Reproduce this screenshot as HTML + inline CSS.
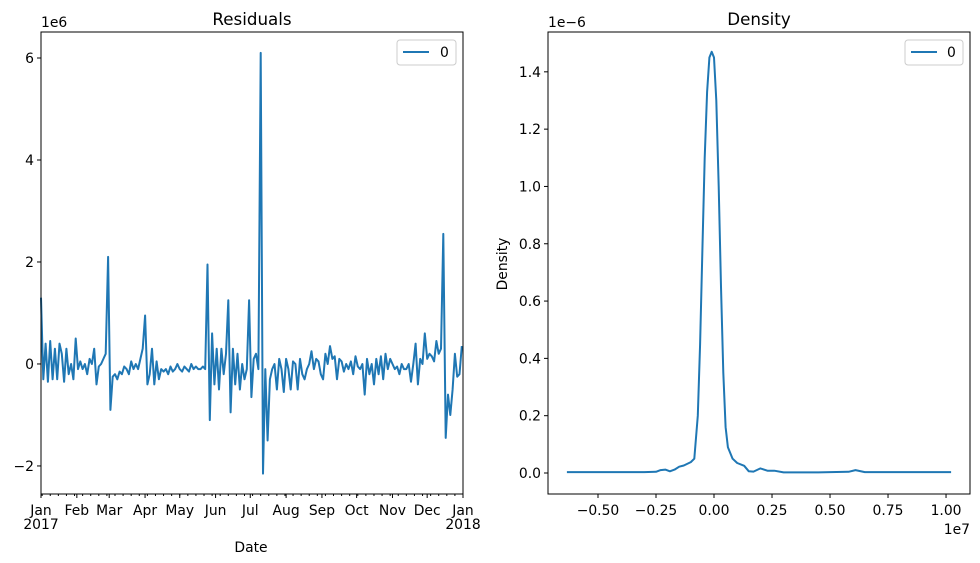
<!DOCTYPE html>
<html><head><meta charset="utf-8"><style>
html,body{margin:0;padding:0;background:#fff;}
svg{display:block;font-family:"DejaVu Sans","Liberation Sans",sans-serif;}
</style></head><body>
<svg id="chart" width="980" height="563" viewBox="0 0 980 563">
<rect width="980" height="563" fill="#fff"/>
<g id="left"></g>
<g id="right"></g>
</svg>
<script>
// ---- Residuals data (millions, every 2 days from 2017-01-01) ----
const residualStepDays = 2;
const residualValues = [
1.3,-0.3,0.4,-0.35,0.45,-0.3,0.3,-0.3,0.4,0.2,
-0.35,0.3,-0.2,0.0,-0.3,0.5,-0.1,0.05,-0.1,0.0,
-0.2,0.1,0.0,0.3,-0.4,-0.05,0.0,0.1,0.2,2.1,
-0.9,-0.25,-0.2,-0.3,-0.15,-0.2,-0.05,-0.1,-0.2,0.05,
-0.1,0.0,-0.1,0.1,0.3,0.95,-0.4,-0.2,0.3,-0.4,
0.05,-0.3,-0.1,-0.15,-0.1,-0.2,-0.05,-0.15,-0.1,0.0,
-0.1,-0.15,-0.05,-0.1,-0.15,0.0,-0.1,-0.05,-0.1,-0.1,
-0.05,-0.1,1.95,-1.1,0.6,-0.4,0.3,-0.5,0.3,-0.2,
0.2,1.25,-0.95,0.3,-0.4,0.2,-0.5,0.0,-0.3,-0.1,
1.25,-0.65,0.1,0.2,-0.1,6.1,-2.15,-0.1,-1.5,-0.3,
-0.1,0.0,-0.5,0.1,-0.1,-0.55,0.1,-0.1,-0.5,0.05,
0.0,-0.5,0.1,-0.2,-0.3,-0.1,0.0,0.25,-0.1,0.1,
0.05,-0.2,-0.3,0.2,0.0,0.35,0.1,0.15,-0.3,0.1,
0.05,-0.15,0.0,-0.1,0.05,-0.2,0.15,-0.05,-0.1,0.0,
-0.6,0.1,-0.2,0.0,-0.4,0.1,-0.2,0.15,-0.3,0.2,
-0.1,0.1,0.0,-0.1,-0.05,-0.2,0.0,-0.1,-0.1,0.0,
-0.35,0.0,0.4,-0.4,0.1,0.0,0.6,0.1,0.2,0.15,
0.05,0.45,0.2,0.3,2.55,-1.45,-0.6,-1.0,-0.5,0.2,
-0.25,-0.2,0.35];
const monthLabels = ["Jan","Feb","Mar","Apr","May","Jun","Jul","Aug","Sep","Oct","Nov","Dec","Jan"];
const monthStartDays = [0,31,59,90,120,151,181,212,243,273,304,334,365];
const residualYTicks = [-2,0,2,4,6];
// ---- Density data (x in 1e7, y in 1e-6) ----
const densityX = [-0.634,-0.3,-0.25,-0.23,-0.21,-0.19,-0.17,-0.15,-0.13,-0.1,-0.085,-0.07,-0.06,-0.05,-0.04,-0.03,-0.02,-0.01,0.0,0.01,0.02,0.03,0.04,0.05,0.06,0.08,0.1,0.13,0.15,0.17,0.2,0.23,0.26,0.3,0.45,0.58,0.61,0.65,0.8,1.022];
const densityY = [0.003,0.003,0.004,0.01,0.012,0.006,0.012,0.022,0.026,0.038,0.05,0.2,0.45,0.78,1.1,1.33,1.45,1.47,1.45,1.3,1.0,0.65,0.35,0.16,0.09,0.05,0.035,0.025,0.006,0.005,0.016,0.008,0.008,0.002,0.002,0.004,0.01,0.003,0.003,0.003];
const densityXTicks = [-0.5,-0.25,0,0.25,0.5,0.75,1.0];
const densityYTicks = [0,0.2,0.4,0.6,0.8,1.0,1.2,1.4];

const NS="http://www.w3.org/2000/svg";
function mk(parent,tag,attrs,text){const e=document.createElementNS(NS,tag);for(const k in attrs)e.setAttribute(k,attrs[k]);if(text!==undefined)e.textContent=text;parent.appendChild(e);return e;}
const C="#1f77b4";
const FS=13.9, TFS=16.7;

// ---------- Left: residuals ----------
const L=document.getElementById('left');
const lx0=41,lx1=463,ly0=32,ly1=494;
const ldMin=0,ldMax=365,lvMin=-2.55,lvMax=6.51;
const lX=d=>lx0+(d-ldMin)/(ldMax-ldMin)*(lx1-lx0);
const lY=v=>ly1-(v-lvMin)/(lvMax-lvMin)*(ly1-ly0);
let t=mk(L,'text',{x:252,y:25,'text-anchor':'middle','font-size':TFS},'Residuals');


let pts=residualValues.map((v,i)=>lX(Math.min(i*residualStepDays,365)).toFixed(1)+','+lY(v).toFixed(1)).join(' ');
let line=mk(L,'polyline',{points:pts,fill:'none',stroke:C,'stroke-width':2,'stroke-linejoin':'round'});


let fr=mk(L,'rect',{x:lx0,y:ly0,width:lx1-lx0,height:ly1-ly0,fill:'none',stroke:'#000','stroke-width':1});


residualYTicks.forEach(v=>{
  const y=lY(v);
  mk(L,'line',{x1:lx0-4,x2:lx0,y1:y,y2:y,stroke:'#000'});
  const tl=mk(L,'text',{x:lx0-7,y:y+5,'text-anchor':'end','font-size':FS},v<0?'\u2212'+Math.abs(v):String(v));
  
  
});
let ex=mk(L,'text',{x:lx0,y:27,'font-size':FS},'1e6');


for(let d=1;d<=365;d+=7){const x=lX(d);mk(L,'line',{x1:x,x2:x,y1:ly1,y2:ly1+2,stroke:'#000'});}
monthStartDays.forEach((d,i)=>{
  const x=lX(d);
  mk(L,'line',{x1:x,x2:x,y1:ly1,y2:ly1+4,stroke:'#000'});
  const tl=mk(L,'text',{x:x,y:ly1+21,'text-anchor':'middle','font-size':FS},monthLabels[i]);
  
  
});
mk(L,'text',{x:lX(0),y:ly1+35,'text-anchor':'middle','font-size':FS},'2017');
mk(L,'text',{x:lX(365),y:ly1+35,'text-anchor':'middle','font-size':FS},'2018');
let xt=mk(L,'text',{x:251,y:552,'text-anchor':'middle','font-size':FS},'Date');


let lg=mk(L,'g',{});


mk(lg,'rect',{x:397,y:40,width:59,height:25,rx:3,fill:'#fff',stroke:'#ccc'});
mk(lg,'line',{x1:403,x2:429,y1:52,y2:52,stroke:C,'stroke-width':2});
mk(lg,'text',{x:440,y:57,'font-size':FS},'0');

// ---------- Right: density ----------
const R=document.getElementById('right');
const rx0=548,rx1=970,ry0=32,ry1=494;
const rxMin=-0.7155,rxMax=1.1033,ryMin=-0.0733,ryMax=1.539;
const rX=v=>rx0+(v-rxMin)/(rxMax-rxMin)*(rx1-rx0);
const rY=v=>ry1-(v-ryMin)/(ryMax-ryMin)*(ry1-ry0);
t=mk(R,'text',{x:759,y:25,'text-anchor':'middle','font-size':TFS},'Density');


pts=densityX.map((x,i)=>rX(x).toFixed(1)+','+rY(densityY[i]).toFixed(1)).join(' ');
line=mk(R,'polyline',{points:pts,fill:'none',stroke:C,'stroke-width':2,'stroke-linejoin':'round'});


fr=mk(R,'rect',{x:rx0,y:ry0,width:rx1-rx0,height:ry1-ry0,fill:'none',stroke:'#000','stroke-width':1});


densityYTicks.forEach(v=>{
  const y=rY(v);
  mk(R,'line',{x1:rx0-4,x2:rx0,y1:y,y2:y,stroke:'#000'});
  const tl=mk(R,'text',{x:rx0-7,y:y+5,'text-anchor':'end','font-size':FS},v.toFixed(1));
  
  
});
densityXTicks.forEach(v=>{
  const x=rX(v);
  mk(R,'line',{x1:x,x2:x,y1:ry1,y2:ry1+4,stroke:'#000'});
  const tl=mk(R,'text',{x:x,y:ry1+21,'text-anchor':'middle','font-size':FS},(v<0?'\u2212':'')+Math.abs(v).toFixed(2));
  
  
});
ex=mk(R,'text',{x:548,y:27,'font-size':FS},'1e\u22126');


ex=mk(R,'text',{x:970,y:534,'text-anchor':'end','font-size':FS},'1e7');


let yt=mk(R,'text',{x:0,y:0,'text-anchor':'middle','font-size':FS,transform:'translate(507,264) rotate(-90)'},'Density');


lg=mk(R,'g',{});


mk(lg,'rect',{x:905,y:40,width:58,height:25,rx:3,fill:'#fff',stroke:'#ccc'});
mk(lg,'line',{x1:911,x2:937,y1:52,y2:52,stroke:C,'stroke-width':2});
mk(lg,'text',{x:947,y:57,'font-size':FS},'0');
</script>
</body></html>
